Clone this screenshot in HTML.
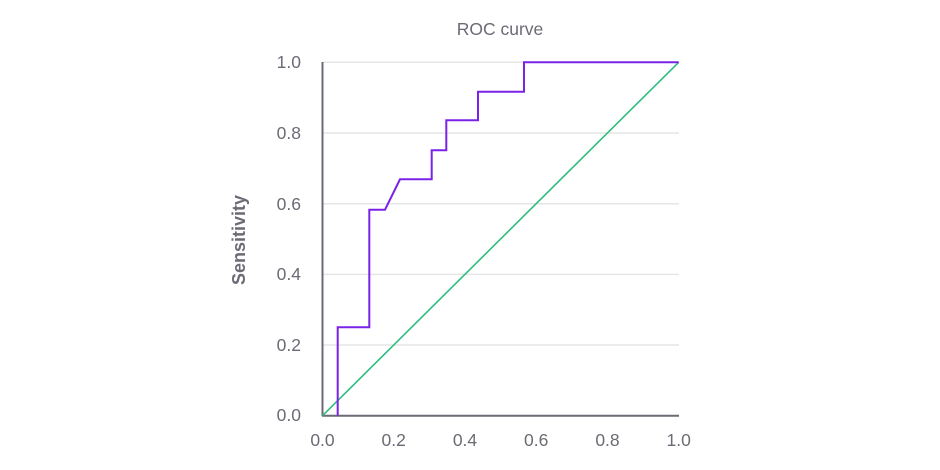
<!DOCTYPE html>
<html><head><style>
body{margin:0;background:#fff;}
svg{display:block;font-family:"Liberation Sans",sans-serif;}
</style></head><body>
<svg width="940" height="470" viewBox="0 0 940 470">
<rect width="940" height="470" fill="#fff"/>
<g stroke="#e6e6e6" stroke-width="1.5">
<line x1="323" y1="62.3" x2="679" y2="62.3"/>
<line x1="323" y1="133" x2="679" y2="133"/>
<line x1="323" y1="203.7" x2="679" y2="203.7"/>
<line x1="323" y1="274.4" x2="679" y2="274.4"/>
<line x1="323" y1="345" x2="679" y2="345"/>
</g>
<line x1="322.5" y1="62" x2="322.5" y2="416" stroke="#6b6b75" stroke-width="2"/>
<line x1="322" y1="415.7" x2="679" y2="415.7" stroke="#6b6b75" stroke-width="2"/>
<line x1="322.5" y1="415.7" x2="678.7" y2="62.3" stroke="#2ebd7f" stroke-width="1.6"/>
<polyline fill="none" stroke="#7a22e8" stroke-width="2" points="337.7,415.7 337.7,327.3 369.3,327.3 369.3,209.7 385,209.7 400,179.3 431.7,179.3 431.7,150.3 446.3,150.3 446.3,120.3 478,120.3 478,91.7 524,91.7 524,62.3 678.7,62.3"/>
<g fill="#6b6b75" font-size="17.5">
<text x="500" y="35" text-anchor="middle">ROC curve</text>
<g text-anchor="end">
<text x="301" y="68">1.0</text>
<text x="301" y="139">0.8</text>
<text x="301" y="210">0.6</text>
<text x="301" y="280">0.4</text>
<text x="301" y="351">0.2</text>
<text x="301" y="421">0.0</text>
</g>
<g text-anchor="middle">
<text x="322.5" y="446">0.0</text>
<text x="393.7" y="446">0.2</text>
<text x="465" y="446">0.4</text>
<text x="536.2" y="446">0.6</text>
<text x="607.5" y="446">0.8</text>
<text x="678.7" y="446">1.0</text>
</g>
<text transform="translate(245,240) rotate(-90)" text-anchor="middle" font-weight="bold" font-size="18">Sensitivity</text>
</g>
</svg>
</body></html>
